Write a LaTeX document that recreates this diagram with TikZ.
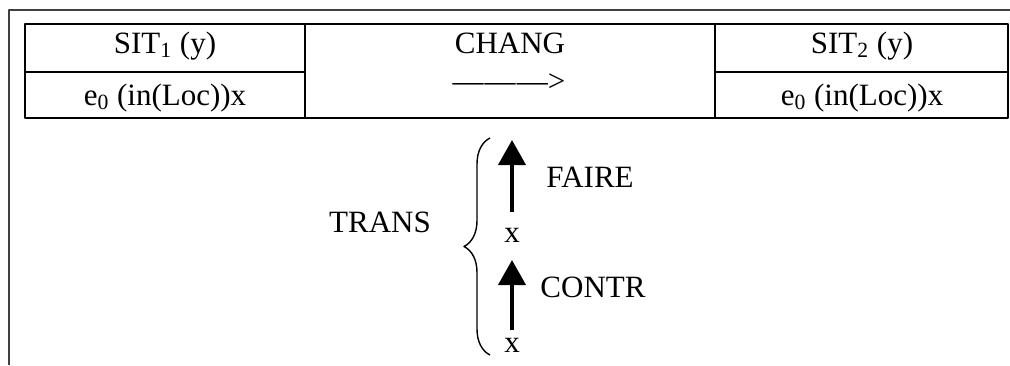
\documentclass[tikz,border=0pt]{standalone}
\usepackage{fontspec}
\setmainfont{Liberation Serif}
\usetikzlibrary{arrows.meta,decorations.pathreplacing}
\begin{document}
\begin{tikzpicture}[x=0.5pt,y=-0.5pt,font=\fontsize{15.5}{18}\selectfont,line join=round,
	rule/.style={line width=1.3pt},
	frame/.style={line width=1pt,black!75},
	txt/.style={anchor=base,inner sep=0pt},
	up/.style={line width=2pt,-{Triangle[length=12.5pt,width=13.5pt]}}]
	\useasboundingbox (0,0) rectangle (1010,365);
	% outer frame
	\draw[frame] (1010,10) -- (9,10) -- (9,365);
	% table
	\coordinate (A) at (25,24);
	\coordinate (B) at (1008,118);
	\draw[rule] (A) rectangle (B);
	\draw[rule] (305,24)--(305,118) (715,24)--(715,118) (25,72)--(305,72) (715,72)--(1008,72);
	\node[txt] (sit1) at (165,53) {SIT\textsubscript{1} (y)};
	\node[txt] (loc1) at (165,105) {e\textsubscript{0} (in(Loc))x};
	\node[txt] (chang) at (510,53) {CHANG};
	\node[txt] (arr) at (509,91) {—\kern0.6pt—\kern0.6pt—>};
	\node[txt] (sit2) at (862,53) {SIT\textsubscript{2} (y)};
	\node[txt] (loc2) at (862,105) {e\textsubscript{0} (in(Loc))x};
	% lower part
	\node[txt] (trans) at (380,232) {TRANS};
	\draw[line width=0.7pt,decorate,decoration={brace,amplitude=13pt}] (490,355) -- (490,138);
	\node[txt] (x1) at (512,242) {x};
	\node[txt] (x2) at (512,352) {x};
	\coordinate (f) at (512,140);
	\coordinate (c) at (512,260);
	\draw[up] ([yshift=7.5pt]x1.north) -- (f);
	\draw[up] ([yshift=3.5pt]x2.north) -- (c);
	\node[txt] (faire) at (590,187) {FAIRE};
	\node[txt] (contr) at (593,297) {CONTR};
\end{tikzpicture}
\end{document}
